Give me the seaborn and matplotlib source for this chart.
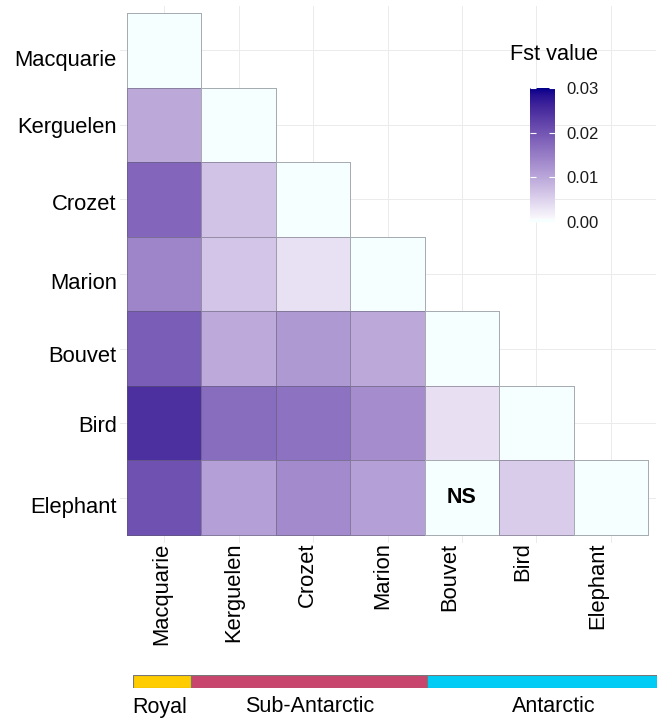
import numpy as np
import pandas as pd
import matplotlib
matplotlib.use("Agg")
import matplotlib.pyplot as plt
from matplotlib.colors import ListedColormap
from matplotlib.transforms import ScaledTranslation
import seaborn as sns

# ---------------- data ----------------
populations = ["Macquarie", "Kerguelen", "Crozet", "Marion", "Bouvet", "Bird", "Elephant"]
fst_macquarie = [0.0]
fst_kerguelen = [0.0098, 0.0]
fst_crozet = [0.0178, 0.0067, 0.0]
fst_marion = [0.0140, 0.0065, 0.0033, 0.0]
fst_bouvet = [0.0189, 0.0097, 0.0117, 0.0098, 0.0]
fst_bird = [0.0246, 0.0170, 0.0163, 0.0132, 0.0034, 0.0]
fst_elephant = [0.0204, 0.0108, 0.0134, 0.0110, 0.0, 0.0057, 0.0]
ns_pairs = [("Elephant", "Bouvet")]
cbar_ticks = [0.00, 0.01, 0.02, 0.03]
groups = ["Royal", "Sub-Antarctic", "Antarctic"]
group_sizes = [1.0, 4.07, 3.97]
group_colors = ["#FFCC00", "#C8466E", "#00CCF5"]

rows = [fst_macquarie, fst_kerguelen, fst_crozet, fst_marion, fst_bouvet, fst_bird, fst_elephant]
n = len(populations)
mat = np.full((n, n), np.nan)
for i, r in enumerate(rows):
    mat[i, :len(r)] = r
df = pd.DataFrame(mat, index=populations, columns=populations)
mask = np.isnan(mat)

# ---------------- colormap (Lab interpolation white -> darkblue) ----------------
def srgb_to_lab(rgb):
    rgb = np.asarray(rgb, float)
    lin = np.where(rgb <= 0.04045, rgb / 12.92, ((rgb + 0.055) / 1.055) ** 2.4)
    M = np.array([[0.4124, 0.3576, 0.1805], [0.2126, 0.7152, 0.0722], [0.0193, 0.1192, 0.9505]])
    xyz = M @ lin
    wp = np.array([0.95047, 1.0, 1.08883])
    t = xyz / wp
    f = np.where(t > 0.008856, np.cbrt(t), 7.787 * t + 16 / 116)
    return np.array([116 * f[1] - 16, 500 * (f[0] - f[1]), 200 * (f[1] - f[2])])

def lab_to_srgb(lab):
    L, a, b = lab
    fy_ = (L + 16) / 116
    fx_ = fy_ + a / 500
    fz_ = fy_ - b / 200
    def inv(f):
        return f ** 3 if f ** 3 > 0.008856 else (f - 16 / 116) / 7.787
    wp = np.array([0.95047, 1.0, 1.08883])
    xyz = np.array([inv(fx_), inv(fy_), inv(fz_)]) * wp
    Minv = np.array([[3.2406, -1.5372, -0.4986], [-0.9689, 1.8758, 0.0415], [0.0557, -0.2040, 1.0570]])
    lin = np.clip(Minv @ xyz, 0, 1)
    rgb = np.where(lin <= 0.0031308, 12.92 * lin, 1.055 * lin ** (1 / 2.4) - 0.055)
    return np.clip(rgb, 0, 1)

lab_lo = srgb_to_lab([1, 1, 1])
lab_hi = srgb_to_lab([0, 0, 139 / 255])
N = 256
fr = np.linspace(0, 1, N)
cols = np.array([lab_to_srgb(lab_lo + (lab_hi - lab_lo) * t) for t in fr])
azure = np.array([246, 255, 255]) / 255
cols[fr < 0.02] = azure
cmap = ListedColormap(cols)

# ---------------- figure ----------------
W, H = 660, 718
plt.rcParams["font.family"] = ["Liberation Sans", "DejaVu Sans"]
fig = plt.figure(figsize=(W / 100, H / 100), dpi=100)

def fx(px):
    return px / W

def fy(py):
    return 1 - py / H

ax = fig.add_axes([fx(119.5), fy(542.5), (655.5 - 119.5) / W, (542.5 - 5.5) / H])
sns.heatmap(df, mask=mask, cmap=cmap, vmin=0, vmax=0.03, cbar=False,
            linewidths=0.7, linecolor=(0.35, 0.35, 0.4, 0.5), ax=ax)
mesh = ax.collections[0]
edge = np.tile(np.array([[0.35, 0.35, 0.4, 0.5]]), (n * n, 1))
edge[mask.ravel()] = [0, 0, 0, 0]
mesh.set_edgecolor(edge)

ax.set_xlim(-0.1, n + 0.1)
ax.set_ylim(n + 0.1, -0.1)
ax.set_xlabel("")
ax.set_ylabel("")
ax.set_axisbelow(True)
ax.grid(True, color="#EBEBEB", lw=0.7)
for s in ax.spines.values():
    s.set_visible(False)
ax.set_xticks(np.arange(n) + 0.5)
ax.set_yticks(np.arange(n) + 0.5)
ax.set_xticklabels(populations, rotation=90, ha="center", va="top", fontsize=15.8, color="black")
ax.set_yticklabels(populations, rotation=0, ha="right", va="center", fontsize=15.8, color="black")
ax.tick_params(axis="both", length=0)
ax.tick_params(axis="x", pad=0)
ax.tick_params(axis="y", pad=2)

# small label nudges to follow the reference layout (pixels)
ylab_dy = [10, 3, 5, 10, 8, 3, 10]
xlab_dx = [-2, -5, -6, -5, -12, -14, -13]
for lab, d in zip(ax.get_yticklabels(), ylab_dy):
    lab.set_transform(lab.get_transform() + ScaledTranslation(0, -d / 100, fig.dpi_scale_trans))
for lab, d in zip(ax.get_xticklabels(), xlab_dx):
    lab.set_transform(lab.get_transform() + ScaledTranslation(d / 100, 0, fig.dpi_scale_trans))

for (rname, cname) in ns_pairs:
    ri = populations.index(rname)
    ci = populations.index(cname)
    ax.text(ci + 0.5, ri + 0.5, "NS", ha="center", va="center", fontsize=15.5,
            fontweight="bold", color="black")

# ---------------- colorbar ----------------
cax = fig.add_axes([fx(530), fy(222), 25 / W, (222 - 88) / H])
cb = fig.colorbar(mesh, cax=cax)
cb.outline.set_visible(False)
cb.set_ticks(cbar_ticks)
cb.set_ticklabels([f"{t:.2f}" for t in cbar_ticks])
cax.tick_params(axis="y", which="both", direction="in", length=4, width=0.8,
                color="white", left=True, right=True, labelsize=12, pad=8,
                labelcolor="#1a1a1a")
fig.text(fx(510), fy(54), "Fst value", ha="left", va="center", fontsize=15.7, color="black")

# ---------------- group bar ----------------
gax = fig.add_axes([fx(133), fy(688), (657 - 133) / W, 13 / H])
lefts = np.concatenate([[0], np.cumsum(group_sizes)[:-1]])
gax.barh([0] * len(groups), group_sizes, left=lefts, color=group_colors,
         edgecolor="#777777", linewidth=0.8, height=1.0)
gax.set_xlim(0, sum(group_sizes))
gax.set_ylim(-0.5, 0.5)
gax.axis("off")
label_x = [160, 310, 554]
for g, cx in zip(groups, label_x):
    fig.text(fx(cx), fy(707), g, ha="center", va="center", fontsize=15.5, color="black")

fig.savefig("out.png", dpi=100)
